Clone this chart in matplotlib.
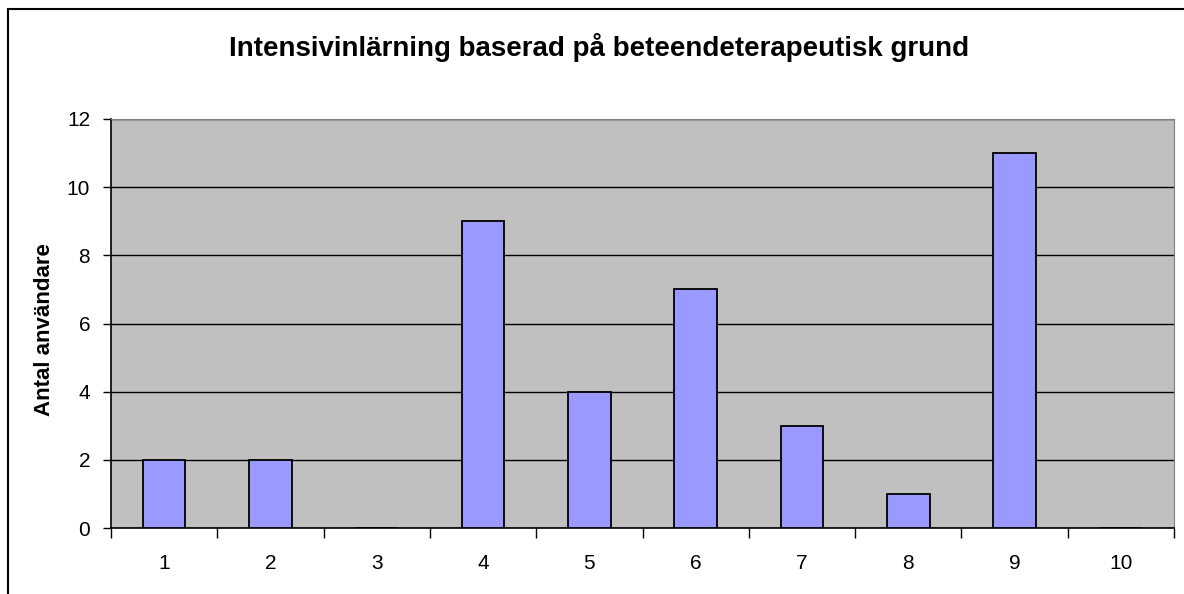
import matplotlib.pyplot as plt
from matplotlib.patches import Rectangle

categories = ['1', '2', '3', '4', '5', '6', '7', '8', '9', '10']
antal = [2, 2, 0, 9, 4, 7, 3, 1, 11, 0]
yticks = [0, 2, 4, 6, 8, 10, 12]

plt.rcParams['font.family'] = ['Liberation Sans', 'DejaVu Sans']

fig = plt.figure(figsize=(11.84, 5.94), dpi=100)
# outer chart border (left and top visible, rest cropped)
fig.patches.append(Rectangle((8 / 1184, -0.1), 1.2, 1.1 - 9 / 594,
                             transform=fig.transFigure, fill=False,
                             edgecolor='black', linewidth=1.5))

ax = fig.add_axes([111 / 1184, 66 / 594, 1063 / 1184, 409 / 594])
ax.set_facecolor('#C0C0C0')

x = list(range(len(categories)))
ax.bar(x, antal, width=0.4, color='#9999FF', edgecolor='black', linewidth=1.3, zorder=3)

ax.set_xlim(-0.5, len(categories) - 0.5)
ax.set_ylim(0, 12)
ax.set_yticks(yticks)
ax.set_yticklabels([str(t) for t in yticks])
ax.yaxis.grid(True, color='black', linewidth=1, zorder=1)
ax.set_axisbelow(True)

ax.set_xticks([i + 0.5 for i in range(-1, len(categories))])
ax.set_xticklabels([])
ax.set_xticks(x, minor=True)
ax.set_xticklabels(categories, minor=True)
ax.tick_params(axis='x', which='major', length=7, width=1, direction='out', color='black')
ax.tick_params(axis='x', which='minor', length=0, pad=19, labelsize=15)
ax.tick_params(axis='y', length=6, width=1, direction='out', pad=9, labelsize=15)

for side in ['top', 'right']:
    ax.spines[side].set_color('#808080')
for side in ['left', 'bottom']:
    ax.spines[side].set_color('black')
    ax.spines[side].set_linewidth(1.2)

fig.text(45 / 1184, 1 - 330 / 594, 'Antal användare', rotation=90,
         ha='center', va='center', fontsize=16, fontweight='bold')
fig.text(599 / 1184, 1 - 48 / 594, 'Intensivinlärning baserad på beteendeterapeutisk grund',
         ha='center', va='center', fontsize=20, fontweight='bold')

fig.savefig('out.png', dpi=100)
